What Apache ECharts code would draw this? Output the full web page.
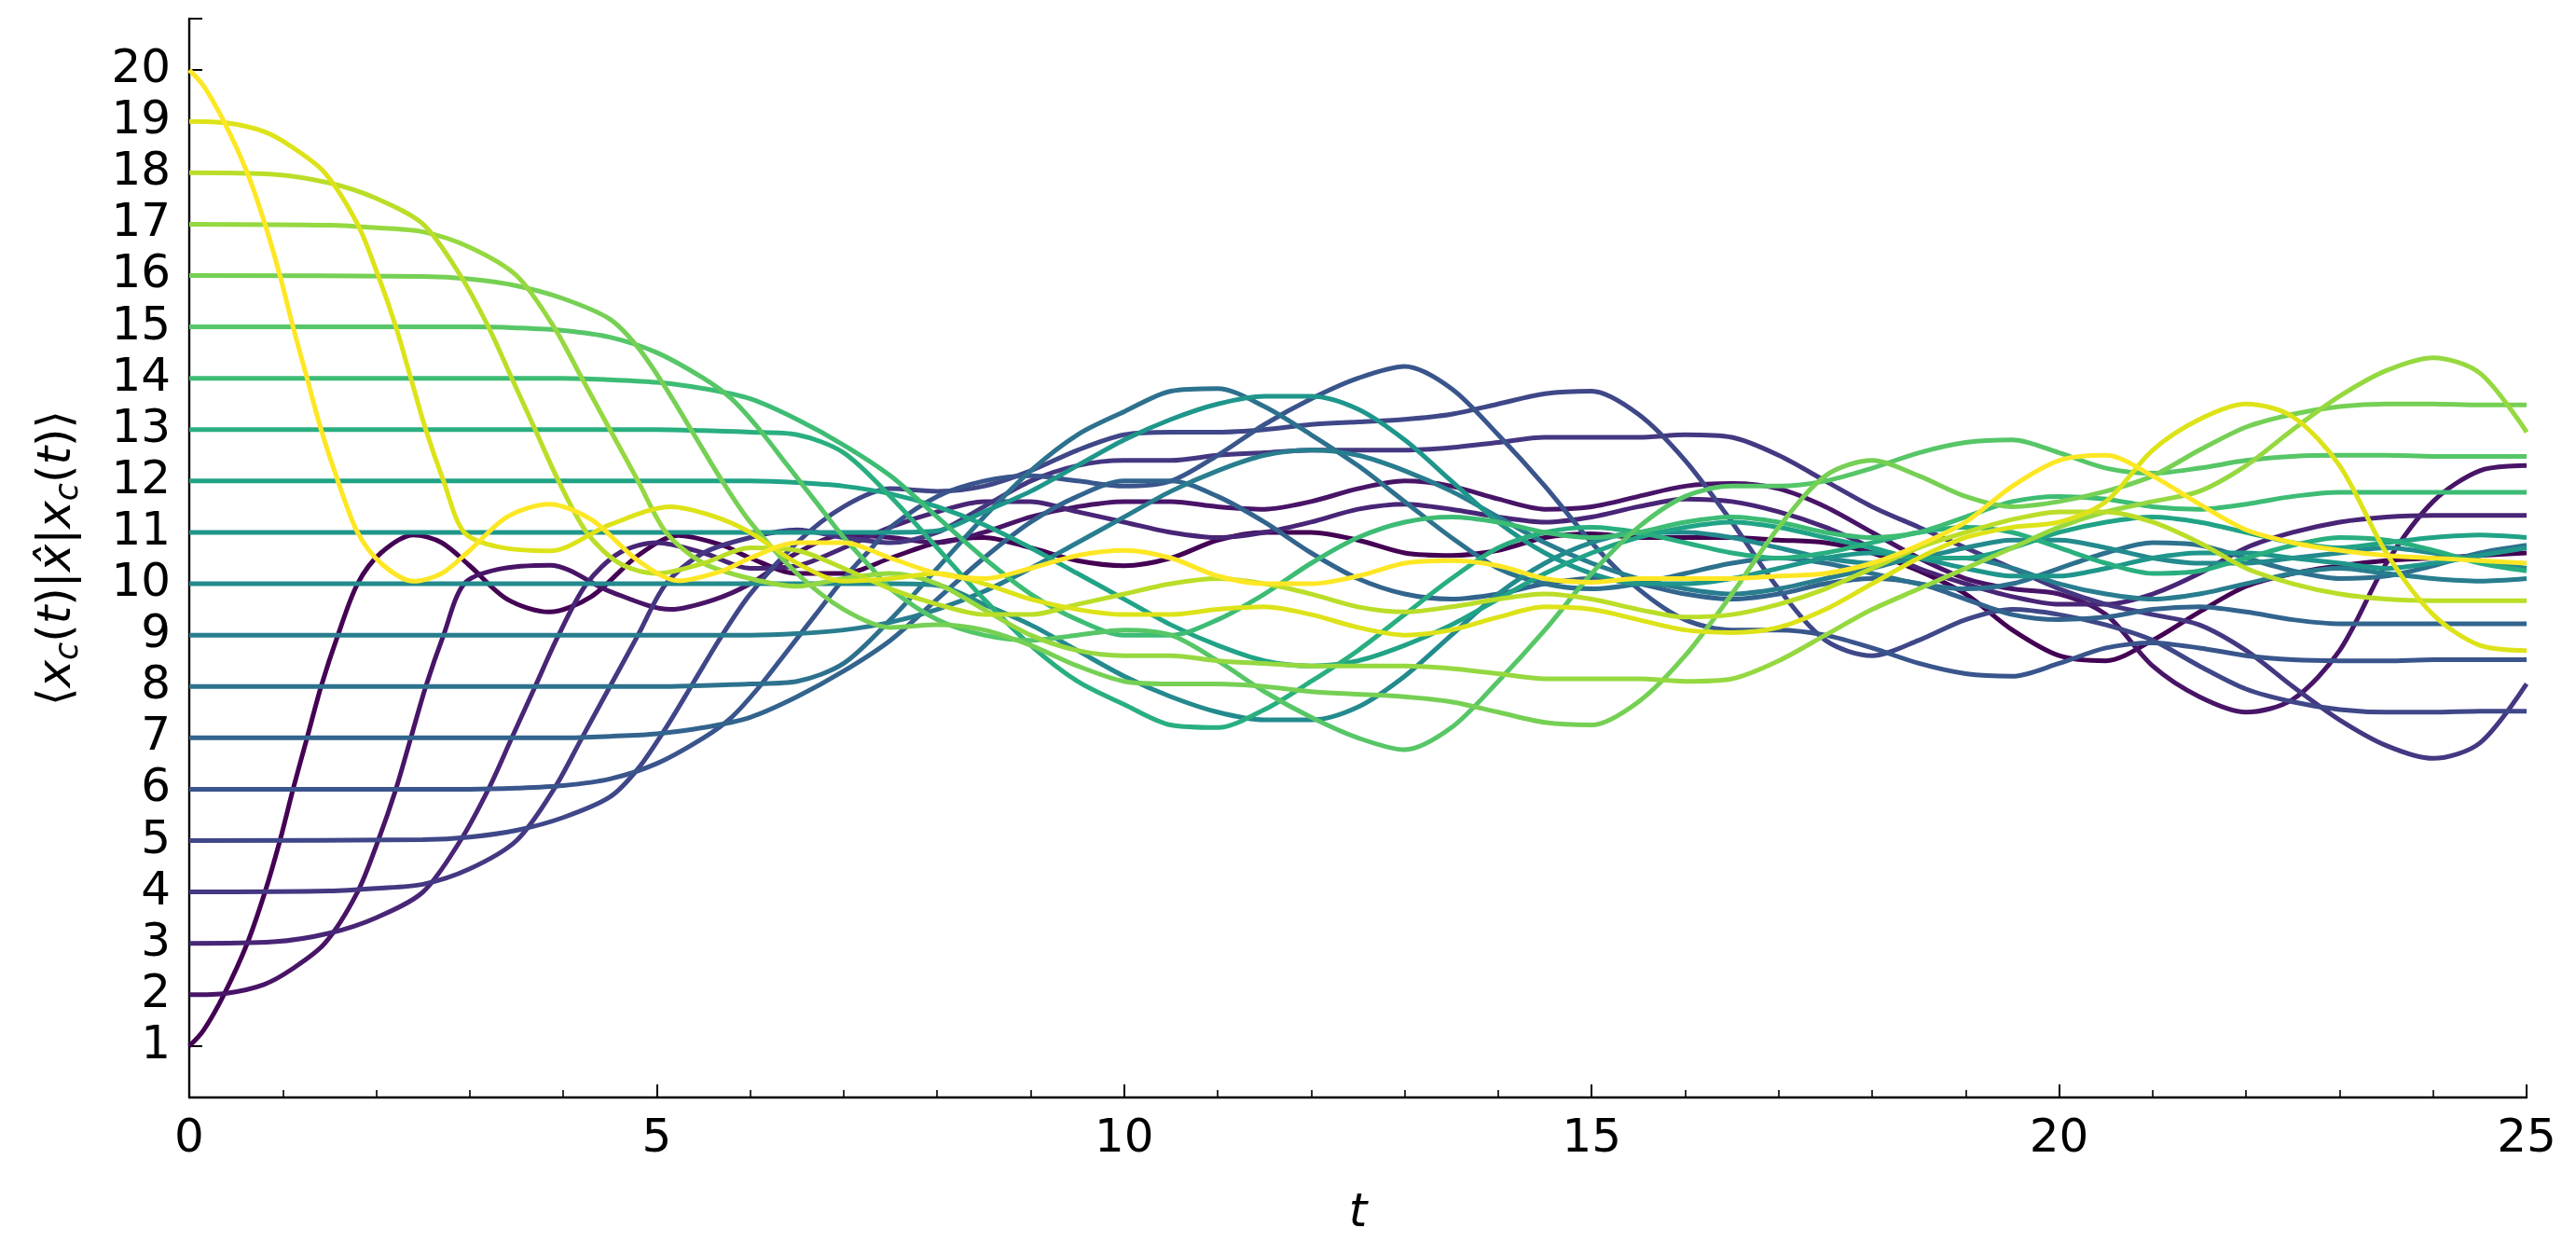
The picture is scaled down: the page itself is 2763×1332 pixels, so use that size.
<!DOCTYPE html>
<html>
<head>
<meta charset="utf-8">
<script src="https://cdn.jsdelivr.net/npm/echarts@6/dist/echarts.min.js"></script>
<style>
html,body{margin:0;padding:0;background:#fff;}
#chart{width:2763px;height:1332px;}
</style>
</head>
<body>
<div id="chart"></div>
<script>
// time grid (t)
const T = [0,0.5,1,1.5,2,2.5,3,3.5,4,4.5,5,5.5,6,6.5,7,7.5,8,8.5,9,9.5,10,10.5,11,11.5,12,12.5,13,13.5,14,14.5,15,15.5,16,16.5,17,17.5,18,18.5,19,19.5,20,20.5,21,21.5,22,22.5,23,23.5,24,24.5,25];

// <x_c(t)|x|x_c(t)> on the grid T for initial positions 1..20
const x1 = [1,2.6,5.2,8.5,10.5,10.95,10.4,9.6,9.45,10.0,10.75,10.85,10.5,10.2,10.2,10.5,10.8,10.9,10.7,10.45,10.35,10.5,10.85,11.0,11.0,10.85,10.6,10.55,10.65,10.9,10.97,10.9,10.9,10.9,10.85,10.8,10.6,10.25,9.8,9.1,8.6,8.5,8.9,9.45,9.95,10.2,10.35,10.45,10.5,10.55,10.6];
const x2 = [2,2.05,2.35,3.1,4.95,7.8,10.1,10.3,10.35,9.85,9.52,9.6,10.0,10.6,10.95,10.9,10.8,11.0,11.3,11.5,11.6,11.6,11.5,11.45,11.6,11.85,12.0,11.9,11.65,11.45,11.5,11.7,11.9,11.95,11.85,11.5,11.0,10.5,10.1,9.9,9.8,9.4,8.4,7.8,7.5,7.75,8.7,10.4,11.6,12.2,12.3];
const x3 = [3,3,3.05,3.25,3.55,4.0,5.1,7.0,9.0,10.3,10.8,10.6,10.3,10.35,10.7,11.1,11.4,11.6,11.6,11.4,11.2,11.0,10.9,11.0,11.2,11.45,11.55,11.45,11.3,11.2,11.3,11.5,11.65,11.6,11.4,11.1,10.7,10.3,10.0,9.75,9.6,9.6,9.8,10.2,10.7,11.0,11.2,11.3,11.33,11.33,11.33];
const x4 = [4,4,4,4.02,4.07,4.15,4.5,5.05,6.0,7.4,9.0,10.3,10.9,11.05,10.9,10.8,11.0,11.5,12.0,12.3,12.4,12.4,12.5,12.55,12.6,12.6,12.6,12.65,12.75,12.85,12.85,12.85,12.9,12.85,12.5,12.0,11.5,11.1,10.7,10.3,9.9,9.6,9.4,9.2,8.7,8.0,7.35,6.85,6.6,6.9,8.05];
const x5 = [5,5,5,5,5,5.02,5.08,5.2,5.45,5.9,6.9,8.3,9.7,10.8,11.5,11.85,11.8,11.9,12.2,12.6,12.9,12.95,12.95,13.0,13.1,13.15,13.2,13.3,13.5,13.7,13.75,13.3,12.4,11.2,9.9,8.9,8.6,8.9,9.3,9.5,9.4,9.2,8.9,8.4,7.95,7.7,7.55,7.5,7.5,7.52,7.52];
const x6 = [6,6,6,6,6,6,6,6.02,6.07,6.2,6.5,7.0,7.8,8.9,10.1,11.1,11.7,12.0,12.1,12.0,11.9,12.0,12.5,13.1,13.6,14.0,14.23,13.8,12.9,11.9,10.8,9.9,9.3,9.1,9.1,9.0,8.75,8.45,8.25,8.2,8.45,8.75,8.85,8.75,8.6,8.52,8.5,8.5,8.52,8.52,8.52];
const x7 = [7,7,7,7,7,7,7,7,7,7.03,7.08,7.2,7.4,7.8,8.3,8.9,9.7,10.5,11.2,11.7,12.0,12.0,11.7,11.2,10.6,10.1,9.8,9.7,9.8,10.0,10.1,10.0,9.8,9.7,9.8,10.0,10.1,10.0,9.7,9.4,9.3,9.35,9.5,9.55,9.45,9.3,9.22,9.22,9.22,9.22,9.22];
const x8 = [8,8,8,8,8,8,8,8,8,8,8,8.02,8.05,8.1,8.45,9.3,10.3,11.3,12.2,12.9,13.35,13.75,13.8,13.45,12.9,12.3,11.6,10.9,10.3,10.0,9.9,10.0,10.2,10.4,10.5,10.4,10.2,10.0,9.9,10.0,10.3,10.6,10.8,10.75,10.5,10.25,10.1,10.15,10.35,10.6,10.75];
const x9 = [9,9,9,9,9,9,9,9,9,9,9,9,9,9.03,9.1,9.25,9.5,9.85,10.3,10.8,11.3,11.8,12.2,12.5,12.6,12.5,12.2,11.8,11.3,10.8,10.4,10.1,9.9,9.8,9.9,10.1,10.3,10.5,10.5,10.3,10.0,9.8,9.7,9.8,10.0,10.2,10.3,10.2,10.1,10.05,10.1];
const x10 = [10,10,10,10,10,10,10,10,10,10,10,10,10,10,10,10,9.97,9.6,9.2,8.7,8.2,7.8,7.5,7.35,7.35,7.6,8.2,9.0,9.8,10.4,10.8,11.0,11.0,10.9,10.7,10.5,10.4,10.5,10.7,10.85,10.85,10.7,10.5,10.4,10.4,10.5,10.6,10.7,10.6,10.45,10.3];
const x11 = [11,11,11,11,11,11,11,11,11,11,11,11,11,11,11,11,11.03,11.4,11.8,12.3,12.8,13.2,13.5,13.65,13.65,13.4,12.8,12.0,11.2,10.6,10.2,10.0,10.0,10.1,10.3,10.5,10.6,10.5,10.3,10.15,10.15,10.3,10.5,10.6,10.6,10.5,10.4,10.3,10.4,10.55,10.7];
const x12 = [12,12,12,12,12,12,12,12,12,12,12,12,12,11.97,11.9,11.75,11.5,11.15,10.7,10.2,9.7,9.2,8.8,8.5,8.4,8.5,8.8,9.2,9.7,10.2,10.6,10.9,11.1,11.2,11.1,10.9,10.7,10.5,10.5,10.7,11.0,11.2,11.3,11.2,11.0,10.8,10.7,10.8,10.9,10.95,10.9];
const x13 = [13,13,13,13,13,13,13,13,13,13,13,12.98,12.95,12.9,12.55,11.7,10.7,9.7,8.8,8.1,7.65,7.25,7.2,7.55,8.1,8.7,9.4,10.1,10.7,11.0,11.1,11.0,10.8,10.6,10.5,10.6,10.8,11.0,11.1,11.0,10.7,10.4,10.2,10.25,10.5,10.75,10.9,10.85,10.65,10.4,10.25];
const x14 = [14,14,14,14,14,14,14,14,14,13.97,13.92,13.8,13.6,13.2,12.7,12.1,11.3,10.5,9.8,9.3,9.0,9.0,9.3,9.8,10.4,10.9,11.2,11.3,11.2,11.0,10.9,11.0,11.2,11.3,11.2,11.0,10.9,11.0,11.3,11.6,11.7,11.65,11.5,11.45,11.55,11.7,11.78,11.78,11.78,11.78,11.78];
const x15 = [15,15,15,15,15,15,15,14.98,14.93,14.8,14.5,14.0,13.2,12.1,10.9,9.9,9.3,9.0,8.9,9.0,9.1,9.0,8.5,7.9,7.4,7.0,6.77,7.2,8.1,9.1,10.2,11.1,11.7,11.9,11.9,12.0,12.25,12.55,12.75,12.8,12.55,12.25,12.15,12.25,12.4,12.48,12.5,12.5,12.48,12.48,12.48];
const x16 = [16,16,16,16,16,15.98,15.92,15.8,15.55,15.1,14.1,12.7,11.3,10.2,9.5,9.15,9.2,9.1,8.8,8.4,8.1,8.05,8.05,8.0,7.9,7.85,7.8,7.7,7.5,7.3,7.25,7.7,8.6,9.8,11.1,12.1,12.4,12.1,11.7,11.5,11.6,11.8,12.1,12.6,13.05,13.3,13.45,13.5,13.5,13.48,13.48];
const x17 = [17,17,17,16.98,16.93,16.85,16.5,15.95,15.0,13.6,12.0,10.7,10.1,9.95,10.1,10.2,10.0,9.5,9.0,8.7,8.6,8.6,8.5,8.45,8.4,8.4,8.4,8.35,8.25,8.15,8.15,8.15,8.1,8.15,8.5,9.0,9.5,9.9,10.3,10.7,11.1,11.4,11.6,11.8,12.3,13.0,13.65,14.15,14.4,14.1,12.95];
const x18 = [18,18,17.95,17.75,17.45,17.0,15.9,14.0,12.0,10.7,10.2,10.4,10.7,10.65,10.3,9.9,9.6,9.4,9.4,9.6,9.8,10.0,10.1,10.0,9.8,9.55,9.45,9.55,9.7,9.8,9.7,9.5,9.35,9.4,9.6,9.9,10.3,10.7,11.0,11.25,11.4,11.4,11.2,10.8,10.3,10.0,9.8,9.7,9.67,9.67,9.67];
const x19 = [19,18.95,18.65,17.9,16.05,13.2,10.9,10.7,10.65,11.15,11.48,11.4,11.0,10.4,10.05,10.1,10.2,10.0,9.7,9.5,9.4,9.4,9.5,9.55,9.4,9.15,9.0,9.1,9.35,9.55,9.5,9.3,9.1,9.05,9.15,9.5,10.0,10.5,10.9,11.1,11.2,11.6,12.6,13.2,13.5,13.25,12.3,10.6,9.4,8.8,8.7];
const x20 = [20,18.4,15.8,12.5,10.5,10.05,10.6,11.4,11.55,11.0,10.25,10.15,10.5,10.8,10.8,10.5,10.2,10.1,10.3,10.55,10.65,10.5,10.15,10.0,10.0,10.15,10.4,10.45,10.35,10.1,10.03,10.1,10.1,10.1,10.15,10.2,10.4,10.75,11.2,11.9,12.4,12.5,12.1,11.55,11.05,10.8,10.65,10.55,10.5,10.45,10.4];

// finer readings [t, value] of the fast early parts (replace the grid before their last t)
const e1  = [[0,1],[0.15,1.3],[0.37,2],[0.62,3],[0.81,4],[0.97,5],[1.11,6],[1.26,7],[1.41,8],[1.59,9],[1.8,10],[2.05,10.6],[2.4,10.95],[2.7,10.8],[3.0,10.35],[3.4,9.7],[3.85,9.45],[4.3,9.75],[4.8,10.55],[5.23,10.94],[5.7,10.75]];
const e2  = [[0,2],[0.4,2.03],[0.8,2.2],[1.1,2.5],[1.45,3],[1.8,4],[2.02,5],[2.21,6],[2.37,7],[2.53,8],[2.72,9],[2.94,10],[3.3,10.28],[3.86,10.36],[4.5,9.85],[5.15,9.5],[5.6,9.68]];
const e3  = [[0,3],[0.9,3.03],[1.5,3.2],[2.0,3.5],[2.5,4.0],[2.9,5.0],[3.2,6.0],[3.45,7.0],[3.7,8.0],[3.95,9.0],[4.25,10.0],[4.6,10.6],[5.0,10.8],[5.5,10.6]];
const e4  = [[0,4],[1.5,4.02],[2.0,4.07],[2.5,4.15],[3.0,4.45],[3.5,5.0],[3.9,6.0],[4.2,7.0],[4.5,8.0],[4.8,9.0],[5.1,10.0],[5.5,10.6]];
const e5  = [[0,5],[2.5,5.02],[3.0,5.07],[3.5,5.2],[4.0,5.45],[4.5,5.85],[4.8,6.4],[5.1,7.2],[5.4,8.1],[5.7,9.0],[6.0,9.8]];
const e6  = [[0,6],[3,6],[3.5,6.02],[4,6.07],[4.5,6.2],[5,6.5],[5.5,7.0],[5.8,7.4],[6.1,8.0],[6.4,8.7],[6.7,9.4],[7.0,10.1],[7.3,10.7]];
const e15 = [[0,15],[3,15],[3.5,14.98],[4,14.93],[4.5,14.8],[5,14.5],[5.5,14.0],[5.8,13.6],[6.1,13.0],[6.4,12.3],[6.7,11.6],[7.0,10.9],[7.3,10.3]];
const e16 = [[0,16],[2.5,15.98],[3.0,15.93],[3.5,15.8],[4.0,15.55],[4.5,15.15],[4.8,14.6],[5.1,13.8],[5.4,12.9],[5.7,12.0],[6.0,11.2]];
const e17 = [[0,17],[1.5,16.98],[2.0,16.93],[2.5,16.85],[3.0,16.55],[3.5,16.0],[3.9,15.0],[4.2,14.0],[4.5,13.0],[4.8,12.0],[5.1,11.0],[5.5,10.4]];
const e18 = [[0,18],[0.9,17.97],[1.5,17.8],[2.0,17.5],[2.5,17.0],[2.9,16.0],[3.2,15.0],[3.45,14.0],[3.7,13.0],[3.95,12.0],[4.25,11.0],[4.6,10.4],[5.0,10.2],[5.5,10.4]];
const e19 = [[0,19],[0.4,18.97],[0.8,18.8],[1.1,18.5],[1.45,18],[1.8,17],[2.02,16],[2.21,15],[2.37,14],[2.53,13],[2.72,12],[2.94,11],[3.3,10.72],[3.86,10.64],[4.5,11.15],[5.15,11.5],[5.6,11.32]];
const e20 = [[0,20],[0.15,19.7],[0.37,19],[0.62,18],[0.81,17],[0.97,16],[1.11,15],[1.26,14],[1.41,13],[1.59,12],[1.8,11],[2.05,10.4],[2.4,10.05],[2.7,10.2],[3.0,10.65],[3.4,11.3],[3.85,11.55],[4.3,11.25],[4.8,10.45],[5.23,10.06],[5.7,10.25]];

const curves = [x1,x2,x3,x4,x5,x6,x7,x8,x9,x10,x11,x12,x13,x14,x15,x16,x17,x18,x19,x20];
const early  = [e1,e2,e3,e4,e5,e6,null,null,null,null,null,null,null,null,e15,e16,e17,e18,e19,e20];

// viridis colours for the 20 curves
const colors = ['#440154','#481467','#482576','#453781','#3f4788','#39558c','#32648e','#2d718e','#287d8e','#238a8d',
                '#1f968b','#20a386','#29af7f','#3dbc74','#56c667','#75d054','#95d840','#bade28','#dde318','#fde725'];

const yTicks = [1,2,3,4,5,6,7,8,9,10,11,12,13,14,15,16,17,18,19,20];

const chart = echarts.init(document.getElementById('chart'), null, {renderer:'canvas'});

const series = curves.map((arr, i) => {
  const e = early[i];
  let data;
  if (e) {
    const tEnd = e[e.length - 1][0];
    data = e.concat(arr.map((v, k) => [T[k], v]).filter(p => p[0] > tEnd + 1e-9));
  } else {
    data = arr.map((v, k) => [T[k], v]);
  }
  return {
    type: 'line',
    name: 'x' + (i + 1),
    data: data,
    showSymbol: false,
    smooth: 0.3,
    lineStyle: {width: 5, color: colors[i]},
    itemStyle: {color: colors[i]},
    z: 2 + i,
    silent: true
  };
});

const option = {
  animation: false,
  backgroundColor: '#ffffff',
  grid: {left: 203, right: 53, top: 20, bottom: 154, containLabel: false},
  xAxis: {
    type: 'value', min: 0, max: 25, interval: 5,
    axisLine: {show: true, onZero: false, lineStyle: {color: '#000', width: 2.4}},
    axisTick: {show: true, inside: true, length: 14, lineStyle: {color: '#000', width: 2}},
    minorTick: {show: true, splitNumber: 5, length: 8, lineStyle: {color: '#000', width: 1.6}},
    splitLine: {show: false},
    minorSplitLine: {show: false},
    axisLabel: {color: '#000', fontSize: 50, fontFamily: 'DejaVu Sans', margin: 20},
    name: 't',
    nameLocation: 'middle',
    nameGap: 100,
    nameTextStyle: {color: '#000', fontSize: 50, fontStyle: 'italic', fontFamily: 'DejaVu Sans'}
  },
  yAxis: {
    type: 'value', min: 0, max: 21, interval: 1,
    axisLine: {show: true, onZero: false, lineStyle: {color: '#000', width: 2.4}},
    axisTick: {show: true, inside: true, length: 14, lineStyle: {color: '#000', width: 2}},
    splitLine: {show: false},
    axisLabel: {
      color: '#000', fontSize: 50, fontFamily: 'DejaVu Sans', margin: 20,
      formatter: function (v) { return yTicks.indexOf(v) >= 0 ? String(v) : ''; }
    },
    name: '⟨{i|x}{s|c}{n|(}{i|t}{n|)|}{i|x̂}{n||}{i|x}{s|c}{n|(}{i|t}{n|)⟩}',
    nameLocation: 'middle',
    nameRotate: 90,
    nameGap: 112,
    nameTextStyle: {
      color: '#000', fontSize: 50, fontFamily: 'DejaVu Sans',
      rich: {
        i: {fontSize: 50, fontStyle: 'italic', fontFamily: 'DejaVu Sans', color: '#000'},
        n: {fontSize: 50, fontFamily: 'DejaVu Sans', color: '#000'},
        s: {fontSize: 35, fontStyle: 'italic', fontFamily: 'DejaVu Sans', color: '#000', padding: [22, 0, 0, 0]}
      }
    }
  },
  series: series
};

chart.setOption(option);
</script>
</body>
</html>
